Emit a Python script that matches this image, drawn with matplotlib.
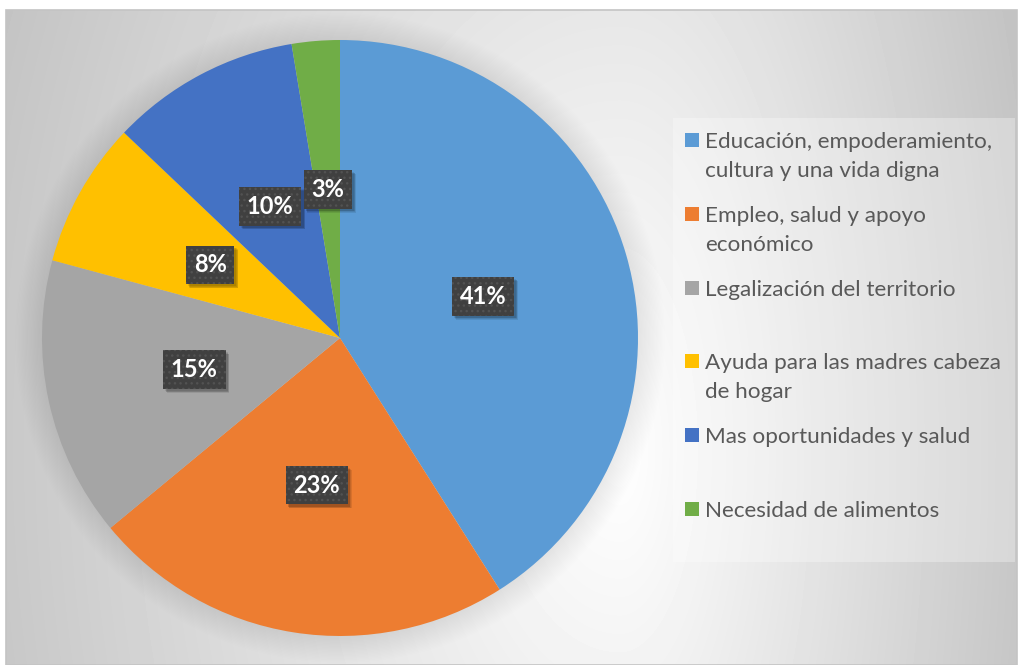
import numpy as np
import matplotlib
matplotlib.use('Agg')
import matplotlib.pyplot as plt
from matplotlib import patheffects
from matplotlib.patches import Rectangle, Circle

# ---------------- data ----------------
categories = ["Educación, empoderamiento,\ncultura y una vida digna",
              "Empleo, salud y apoyo\neconómico",
              "Legalización del territorio",
              "Ayuda para las madres cabeza\nde hogar",
              "Mas oportunidades y salud",
              "Necesidad de alimentos"]
values = [41.0, 23.0, 15.2, 7.9, 10.3, 2.6]
colors = ['#5B9BD5', '#ED7D31', '#A5A5A5', '#FFC000', '#4472C4', '#70AD47']

W, H = 1019, 665
fig = plt.figure(figsize=(W / 100, H / 100), dpi=100)
fig.patch.set_facecolor('white')


class SoftShadow(patheffects.AbstractPathEffect):
    def __init__(self, offset=(3, -3), alpha=0.08, steps=4):
        super().__init__(offset)
        self.alpha = alpha
        self.steps = steps

    def draw_path(self, renderer, gc, tpath, affine, rgbFace):
        from matplotlib.transforms import Affine2D
        for s in range(self.steps):
            gc0 = renderer.new_gc()
            gc0.copy_properties(gc)
            gc0.set_hatch(None)
            gc0.set_linewidth(0)
            gc0.set_alpha(self.alpha)
            gc0.set_foreground('none')
            ox = renderer.points_to_pixels(self._offset[0]) + s * 0.6
            oy = renderer.points_to_pixels(self._offset[1]) - s * 0.6
            renderer.draw_path(gc0, tpath, affine + Affine2D().translate(ox, oy), (0, 0, 0))
            gc0.restore()
        renderer.draw_path(gc, tpath, affine, rgbFace)


# ---------------- background gradient ----------------
bg = fig.add_axes([6 / W, 0, (1017 - 6) / W, 655 / H])
xs = np.arange(6, 1017) + 0.5
ys = np.arange(10, 665) + 0.5
X, Y = np.meshgrid(xs, ys)
cx, cy = 620, 450
sx = np.where(X < cx, 700.0, 441.0)
d = np.sqrt(((X - cx) / sx) ** 2 + ((Y - cy) / 1145.0) ** 2)
v = np.maximum(193, 255 - 62 * d) / 255
bg.imshow(v, cmap='gray', vmin=0, vmax=1, aspect='auto', interpolation='bilinear')
bg.axis('off')
bg.set_zorder(-5)

fig.patches.append(Rectangle((6 / W, 0), 1011 / W, 655 / H, transform=fig.transFigure,
                             fill=False, edgecolor='#c4c4c4', linewidth=1.2, zorder=-1))

# ---------------- pie ----------------
R = 298
ax = fig.add_axes([(340 - R) / W, (H - 338 - R) / H, 2 * R / W, 2 * R / H])
N = 20
for k in range(1, N + 1):
    ax.add_patch(Circle((0, 0), 1 + 0.09 * k / N, facecolor='black', edgecolor='none',
                        alpha=0.005, zorder=0, clip_on=False))

wedges, texts, autotexts = ax.pie(
    values, colors=colors, startangle=90, counterclock=False, radius=1,
    autopct=lambda p: f'{p:.0f}%', pctdistance=0.5,
    wedgeprops=dict(linewidth=0, antialiased=True),
    textprops=dict(color='white', fontsize=17, fontweight='bold', family='Lato'))
for w in wedges:
    w.set_zorder(2)
    w.set_clip_on(False)
for t in autotexts:
    t.set_zorder(5)
    t.set_bbox(dict(boxstyle='square,pad=0.33', facecolor='#404040', edgecolor='#525252',
                    hatch='...', linewidth=0))
    t.get_bbox_patch().set_path_effects([SoftShadow(offset=(1.5, -1.5), alpha=0.09, steps=4)])
ax.set_xlim(-1, 1)
ax.set_ylim(-1, 1)

# ---------------- legend ----------------
fig.patches.append(Rectangle((673 / W, 1 - 562 / H), 342 / W, 444 / H, transform=fig.transFigure,
                             facecolor='white', alpha=0.3, edgecolor='none', zorder=1))
for i, (lab, col) in enumerate(zip(categories, colors)):
    yc = 140 + 73.8 * i
    fig.patches.append(Rectangle((685 / W, 1 - (yc + 7) / H), 14 / W, 14 / H,
                                 transform=fig.transFigure, facecolor=col,
                                 edgecolor='none', zorder=3))
    for j, line in enumerate(lab.split('\n')):
        fig.text(705 / W, 1 - (yc + 8 + 29 * j) / H, line, ha='left', va='baseline',
                 fontsize=16.2, family='Lato', color='#595959', zorder=4)

fig.savefig('out.png', dpi=100)
